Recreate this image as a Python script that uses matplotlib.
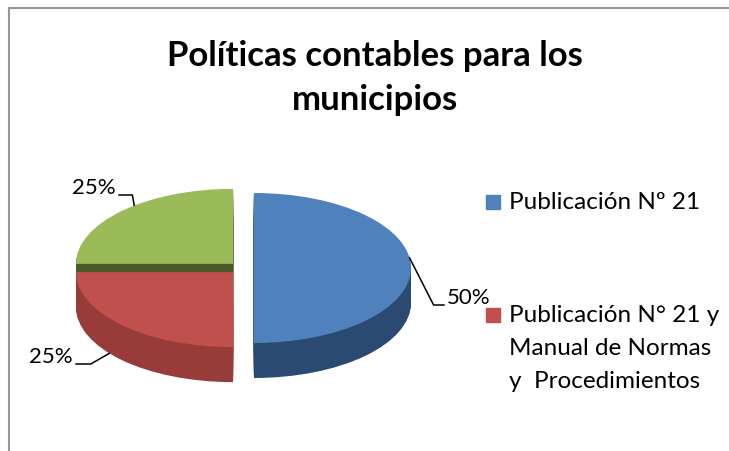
import numpy as np
import matplotlib
matplotlib.use("Agg")
import matplotlib.pyplot as plt
from matplotlib.patches import Rectangle
from matplotlib.lines import Line2D

# --- datos ---
categorias = ["Publicación Nº 21",
              "Publicación N° 21 y\nManual de Normas\ny  Procedimientos",
              ""]  # tercera entrada no visible en la leyenda
valores = [50, 25, 25]
etiquetas = ["50%", "25%", "25%"]
titulo = "Políticas contables para los\nmunicipios"

color_cara = ["#4F81BD", "#C0504D", "#9BBB59"]
color_lado = ["#2A4A72", "#983C3A", "#4A5A28"]

plt.rcParams["font.family"] = ["Lato", "DejaVu Sans"]

W, H = 729, 452
fig = plt.figure(figsize=(W / 100, H / 100), dpi=100)

# geometria del pastel (pixeles)
cx, cy = 241.7, H - 269      # centro de la elipse
rx, ry = 157.0, 75.0         # semiejes
prof = 35                    # profundidad en px
explota = 0.078

ax = fig.add_axes([0, 0, 1, 1])
kw = dict(startangle=90, counterclock=False, explode=[explota] * 3,
          wedgeprops=dict(linewidth=0, antialiased=True))

# paredes laterales: copias desplazadas hacia abajo
for k in range(prof, 0, -1):
    ax.pie(valores, colors=color_lado, center=(0, -k / ry), **kw)
# cara superior
cuñas, _ = ax.pie(valores, colors=color_cara, center=(0, 0), **kw)

ax.set_aspect("auto")
ax.set_xlim(-cx / rx, (W - cx) / rx)
ax.set_ylim(-cy / ry, (H - cy) / ry)
ax.axis("off")

# etiquetas de porcentaje con lineas guia
def punto(ang, dx, dy, abajo=0.0):
    a = np.radians(ang)
    return (dx + np.cos(a), dy + np.sin(a) - abajo)

d = explota * np.cos(np.radians(45))
anclas = [punto(8, explota, 0), punto(218, -d, -d, prof / ry), punto(129, -d, d)]
pos_txt = [(447, 154), (73, 95), (116, 264)]
ha = ["left", "right", "right"]
conn = ["angle,angleA=0,angleB=117", "angle,angleA=0,angleB=30",
        "angle,angleA=0,angleB=100"]
relp = [(0, 0.1), (1, 0.1), (1, 0.1)]
for i in range(3):
    ax.annotate(etiquetas[i], xy=anclas[i], xytext=pos_txt[i],
                textcoords="figure pixels", ha=ha[i], va="center",
                fontsize=16, color="black",
                arrowprops=dict(arrowstyle="-", color="black", lw=1.1,
                                connectionstyle=conn[i], relpos=relp[i],
                                shrinkA=0, shrinkB=0))

# titulo
fig.text(375 / W, 1 - 78 / H, titulo, ha="center", va="center",
         fontsize=25, fontweight="bold", linespacing=1.45)

# leyenda (solo dos entradas visibles)
ley_y = [203, 316]
for i in range(2):
    fig.patches.append(Rectangle((486 / W, 1 - (ley_y[i] + 7) / H), 14 / W, 14 / H,
                                 transform=fig.transFigure, color=color_cara[i]))
    fig.text(509 / W, 1 - (ley_y[i] - 11) / H, categorias[i], ha="left", va="top",
             fontsize=17.5, linespacing=1.72)

# borde del area del grafico
fig.add_artist(Line2D([9 / W, 9 / W], [0, 1 - 9 / H], color="#969696", lw=1.5,
                      transform=fig.transFigure))
fig.add_artist(Line2D([9 / W, 1], [1 - 9 / H, 1 - 9 / H], color="#969696", lw=1.5,
                      transform=fig.transFigure))

fig.savefig("out.png", dpi=100)
